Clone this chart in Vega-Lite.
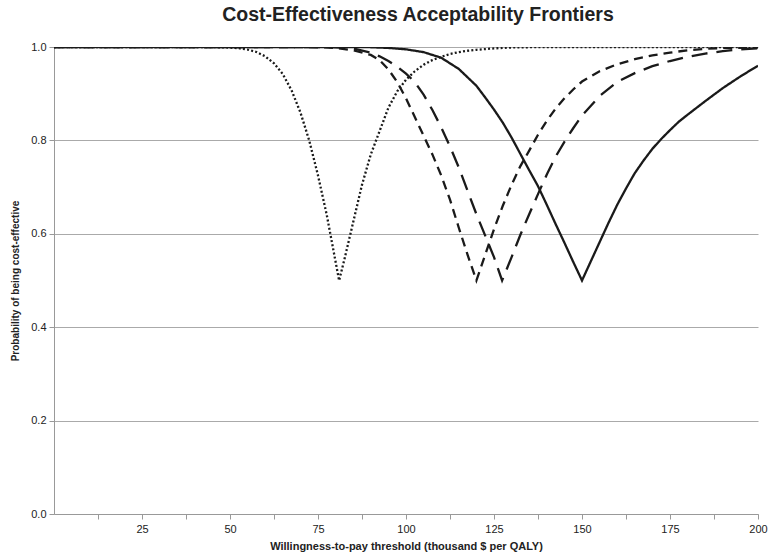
{
  "$schema": "https://vega.github.io/schema/vega-lite/v6.json",
  "width": 704,
  "height": 467,
  "autosize": "none",
  "padding": {"left": 54, "top": 47, "right": 10, "bottom": 39},
  "background": "white",
  "title": {"text": "Cost-Effectiveness Acceptability Frontiers", "font": "Liberation Sans", "fontSize": 19.5, "fontWeight": "bold", "color": "#222", "anchor": "middle", "offset": 16, "dx": 12},
  "config": {"view": {"stroke": null}, "font": "Liberation Sans"},
  "data": {"values": [
    {"s":"dot","x":0,"y":1},{"s":"dot","x":40,"y":1},{"s":"dot","x":45,"y":0.9998},{"s":"dot","x":50,"y":0.9988},{"s":"dot","x":52.5,"y":0.9974},{"s":"dot","x":55,"y":0.9946},{"s":"dot","x":57.5,"y":0.9893},{"s":"dot","x":60,"y":0.98},{"s":"dot","x":62.5,"y":0.965},{"s":"dot","x":65,"y":0.942},{"s":"dot","x":67.5,"y":0.907},{"s":"dot","x":70,"y":0.86},{"s":"dot","x":72.5,"y":0.8},{"s":"dot","x":75,"y":0.725},{"s":"dot","x":77.5,"y":0.64},{"s":"dot","x":80,"y":0.54},{"s":"dot","x":81,"y":0.5},{"s":"dot","x":82.5,"y":0.545},{"s":"dot","x":85,"y":0.625},{"s":"dot","x":87.5,"y":0.705},{"s":"dot","x":90,"y":0.77},{"s":"dot","x":92.5,"y":0.82},{"s":"dot","x":95,"y":0.87},{"s":"dot","x":97.5,"y":0.905},{"s":"dot","x":100,"y":0.93},{"s":"dot","x":102.5,"y":0.948},{"s":"dot","x":105,"y":0.962},{"s":"dot","x":107.5,"y":0.972},{"s":"dot","x":110,"y":0.979},{"s":"dot","x":112.5,"y":0.985},{"s":"dot","x":115,"y":0.989},{"s":"dot","x":117.5,"y":0.992},{"s":"dot","x":120,"y":0.994},{"s":"dot","x":125,"y":0.997},{"s":"dot","x":130,"y":0.999},{"s":"dot","x":140,"y":1},{"s":"dot","x":200,"y":1},
    {"s":"short","x":0,"y":1},{"s":"short","x":70,"y":1},{"s":"short","x":75,"y":0.9995},{"s":"short","x":80,"y":0.998},{"s":"short","x":85,"y":0.993},{"s":"short","x":90,"y":0.983},{"s":"short","x":92.5,"y":0.972},{"s":"short","x":95,"y":0.952},{"s":"short","x":97.5,"y":0.925},{"s":"short","x":100,"y":0.89},{"s":"short","x":102.5,"y":0.85},{"s":"short","x":105,"y":0.81},{"s":"short","x":107.5,"y":0.77},{"s":"short","x":110,"y":0.725},{"s":"short","x":112.5,"y":0.673},{"s":"short","x":115,"y":0.613},{"s":"short","x":117.5,"y":0.555},{"s":"short","x":120,"y":0.5},{"s":"short","x":122.5,"y":0.555},{"s":"short","x":125,"y":0.61},{"s":"short","x":127.5,"y":0.66},{"s":"short","x":130,"y":0.705},{"s":"short","x":132.5,"y":0.745},{"s":"short","x":135,"y":0.778},{"s":"short","x":137.5,"y":0.812},{"s":"short","x":140,"y":0.842},{"s":"short","x":142.5,"y":0.868},{"s":"short","x":145,"y":0.89},{"s":"short","x":147.5,"y":0.909},{"s":"short","x":150,"y":0.926},{"s":"short","x":155,"y":0.948},{"s":"short","x":160,"y":0.963},{"s":"short","x":165,"y":0.974},{"s":"short","x":170,"y":0.982},{"s":"short","x":175,"y":0.988},{"s":"short","x":180,"y":0.993},{"s":"short","x":185,"y":0.996},{"s":"short","x":190,"y":0.998},{"s":"short","x":200,"y":0.999},
    {"s":"long","x":0,"y":1},{"s":"long","x":75,"y":1},{"s":"long","x":80,"y":0.9995},{"s":"long","x":85,"y":0.997},{"s":"long","x":90,"y":0.988},{"s":"long","x":92.5,"y":0.98},{"s":"long","x":95,"y":0.97},{"s":"long","x":97.5,"y":0.958},{"s":"long","x":100,"y":0.943},{"s":"long","x":102.5,"y":0.925},{"s":"long","x":105,"y":0.898},{"s":"long","x":107.5,"y":0.865},{"s":"long","x":110,"y":0.828},{"s":"long","x":112.5,"y":0.787},{"s":"long","x":115,"y":0.742},{"s":"long","x":117.5,"y":0.692},{"s":"long","x":120,"y":0.642},{"s":"long","x":122.5,"y":0.596},{"s":"long","x":125,"y":0.55},{"s":"long","x":127.3,"y":0.5},{"s":"long","x":130,"y":0.55},{"s":"long","x":132.5,"y":0.598},{"s":"long","x":135,"y":0.642},{"s":"long","x":137.5,"y":0.685},{"s":"long","x":140,"y":0.727},{"s":"long","x":142.5,"y":0.765},{"s":"long","x":145,"y":0.797},{"s":"long","x":147.5,"y":0.826},{"s":"long","x":150,"y":0.853},{"s":"long","x":155,"y":0.895},{"s":"long","x":160,"y":0.925},{"s":"long","x":165,"y":0.944},{"s":"long","x":170,"y":0.959},{"s":"long","x":175,"y":0.97},{"s":"long","x":180,"y":0.979},{"s":"long","x":185,"y":0.986},{"s":"long","x":190,"y":0.991},{"s":"long","x":195,"y":0.995},{"s":"long","x":200,"y":0.997},
    {"s":"solid","x":0,"y":1},{"s":"solid","x":85,"y":1},{"s":"solid","x":90,"y":0.9995},{"s":"solid","x":95,"y":0.998},{"s":"solid","x":100,"y":0.995},{"s":"solid","x":105,"y":0.989},{"s":"solid","x":110,"y":0.977},{"s":"solid","x":115,"y":0.953},{"s":"solid","x":120,"y":0.917},{"s":"solid","x":122.5,"y":0.892},{"s":"solid","x":125,"y":0.866},{"s":"solid","x":127.5,"y":0.838},{"s":"solid","x":130,"y":0.806},{"s":"solid","x":132.5,"y":0.771},{"s":"solid","x":135,"y":0.736},{"s":"solid","x":137.5,"y":0.702},{"s":"solid","x":140,"y":0.662},{"s":"solid","x":142.5,"y":0.621},{"s":"solid","x":145,"y":0.581},{"s":"solid","x":147.5,"y":0.54},{"s":"solid","x":150,"y":0.5},{"s":"solid","x":152.5,"y":0.541},{"s":"solid","x":155,"y":0.582},{"s":"solid","x":157.5,"y":0.623},{"s":"solid","x":160,"y":0.662},{"s":"solid","x":162.5,"y":0.697},{"s":"solid","x":165,"y":0.73},{"s":"solid","x":167.5,"y":0.757},{"s":"solid","x":170,"y":0.782},{"s":"solid","x":172.5,"y":0.803},{"s":"solid","x":175,"y":0.822},{"s":"solid","x":177.5,"y":0.84},{"s":"solid","x":180,"y":0.855},{"s":"solid","x":185,"y":0.884},{"s":"solid","x":190,"y":0.912},{"s":"solid","x":195,"y":0.937},{"s":"solid","x":200,"y":0.96}
  ]},
  "mark": {"type": "line", "color": "#1a1a1a", "strokeWidth": 2.3, "clip": true},
  "encoding": {
    "x": {"field": "x", "type": "quantitative", "scale": {"domain": [0, 200], "nice": false, "zero": false},
      "axis": {"title": "Willingness-to-pay threshold (thousand $ per QALY)", "titleFont": "Liberation Sans", "titleFontSize": 11, "titleFontWeight": "bold", "titleColor": "#222", "titlePadding": 6,
        "values": [12.5, 25, 37.5, 50, 62.5, 75, 87.5, 100, 112.5, 125, 137.5, 150, 162.5, 175, 187.5, 200],
        "labelExpr": "datum.value % 25 == 0 ? format(datum.value, 'd') : ''",
        "labelFont": "Liberation Sans", "labelFontSize": 11, "labelColor": "#222", "labelPadding": 4, "labelFlush": false, "labelOverlap": false,
        "grid": false, "domainColor": "#999", "tickColor": "#999", "tickSize": 5, "tickWidth": 1, "domainWidth": 1}},
    "y": {"field": "y", "type": "quantitative", "scale": {"domain": [0, 1], "nice": false},
      "axis": {"title": "Probability of being cost-effective", "titleFont": "Liberation Sans", "titleFontSize": 10, "titleFontWeight": "bold", "titleColor": "#222", "titlePadding": 10,
        "values": [0, 0.2, 0.4, 0.6, 0.8, 1.0], "format": ".1f",
        "labelFont": "Liberation Sans", "labelFontSize": 11, "labelColor": "#222", "labelPadding": 3,
        "grid": true, "gridColor": "#aaa", "gridWidth": 1, "domainColor": "#999", "tickColor": "#999", "tickSize": 5, "domainWidth": 1}},
    "strokeDash": {"field": "s", "type": "nominal", "scale": {"domain": ["solid", "long", "short", "dot"], "range": [[1, 0], [16, 9], [9, 6], [2, 2.2]]}, "legend": null},
    "detail": {"field": "s"}
  }
}
